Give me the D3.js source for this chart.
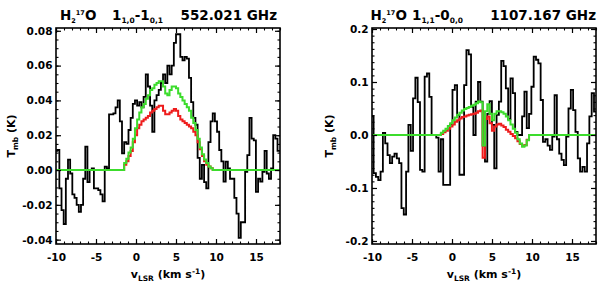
<!DOCTYPE html>
<html>
<head>
<meta charset="utf-8">
<script src="https://cdn.jsdelivr.net/npm/d3@7"></script>
<style>
body { margin: 0; background: #fff; }
svg text { font-family: "DejaVu Sans", sans-serif; font-weight: bold; fill: #000; }
</style>
</head>
<body>
<div id="chart"></div>
<script>
// H2-17O 1(1,0)-1(0,1) 552.021 GHz : channel grid start / width (km/s)
const v0_552 = -10.12, dv_552 = 0.27;
const tmb_552 = [
  0.011, 0.0115, -0.0105, -0.023, -0.031, -0.005, 0.006, -0.002, -0.014, -0.016,
  -0.02, -0.024, -0.02, -0.005, 0.0134, -0.007, 0.0, 0.001, -0.0105, -0.0105,
  -0.0115, -0.014, -0.018, 0.002, 0.001, 0.032, 0.032, 0.0325, 0.036, 0.04,
  0.028, 0.0096, 0.016, 0.015, 0.023, 0.03, 0.038, 0.04, 0.037, 0.039,
  0.036, 0.042, 0.055, 0.048, 0.037, 0.022, 0.04, 0.043, 0.046, 0.05,
  0.055, 0.05, 0.06, 0.055, 0.06, 0.073, 0.078, 0.078, 0.065, 0.063,
  0.065, 0.064, 0.053, 0.039, 0.03, 0.026, 0.007, -0.005, 0.003, -0.007,
  -0.0105, 0.016, 0.028, 0.0326, 0.028, 0.022, 0.0115, 0.005, -0.0067, 0.0048,
  0.001, -0.005, -0.005, -0.016, -0.025, -0.039, -0.03, -0.03, -0.001, 0.0086,
  0.03, 0.018, 0.017, -0.0125, -0.005, -0.0067, -0.001, 0.011, -0.002, -0.005,
  0.001, 0.02, 0.018, 0.011, 0.011
];
// model spectra, non-zero part starting at channel index below
const modelStart_552 = 30;
const red_552 = [
  0, 0, 0.003, 0.005, 0.008, 0.011, 0.016, 0.02, 0.024, 0.026,
  0.028, 0.029, 0.03, 0.031, 0.033, 0.034, 0.035, 0.036, 0.037, 0.037,
  0.034, 0.032, 0.032, 0.033, 0.034, 0.035, 0.034, 0.031, 0.029, 0.028,
  0.027, 0.026, 0.025, 0.024, 0.022, 0.02, 0.016, 0.012, 0.008, 0.005,
  0.003, 0.002, 0.001, 0
];
const green_552 = [
  0, 0, 0.004, 0.0065, 0.01, 0.013, 0.018, 0.024, 0.029, 0.033,
  0.036, 0.038, 0.041, 0.043, 0.046, 0.047, 0.049, 0.05, 0.051, 0.051,
  0.048, 0.044, 0.043, 0.046, 0.048, 0.048, 0.047, 0.044, 0.042, 0.04,
  0.038, 0.036, 0.034, 0.03, 0.027, 0.023, 0.018, 0.013, 0.009, 0.006,
  0.004, 0.002, 0.001, 0
];

// H2-17O 1(1,1)-0(0,0) 1107.167 GHz
const v0_1107 = -10.09, dv_1107 = 0.29;
const tmb_1107 = [
  0.035, -0.072, -0.079, -0.085, -0.069, 0.004, -0.016, -0.038, -0.053, -0.041,
  -0.035, -0.044, -0.053, -0.138, -0.15, -0.069, 0.019, -0.03, 0.069, 0.108,
  0.062, -0.066, -0.069, 0.11, 0.116, 0.072, 0.0, 0.0, -0.005, -0.069,
  -0.008, -0.094, -0.094, -0.094, 0.02, 0.085, 0.094, 0.038, -0.075, -0.075,
  0.094, 0.16, 0.152, 0.053, 0.0, 0.063, 0.10, 0.063, -0.02, -0.05,
  0.04, 0.064, 0.019, -0.063, 0.038, 0.063, 0.14, 0.13, 0.088, 0.03,
  0.107, 0.079, 0.006, 0.0, 0.0, 0.035, 0.082, 0.013, 0.04, 0.091,
  0.148, 0.142, 0.135, 0.066, -0.013, -0.008, -0.02, -0.028, -0.003, 0.075,
  -0.008, -0.035, -0.047, -0.057, -0.003, 0.05, 0.085, 0.047, 0.006, -0.044,
  -0.069, -0.06, -0.069, -0.016, 0.035, 0.079, 0.044
];
const modelStart_1107 = 29;
const red_1107 = [
  0, 0.002, 0.005, 0.008, 0.012, 0.016, 0.02, 0.025, 0.028, 0.031,
  0.034, 0.035, 0.037, 0.038, 0.039, 0.04, 0.042, 0.045, 0.046, -0.043,
  0.03, 0.035, 0.022, 0.008, 0.016, 0.02, 0.021, 0.018, 0.015, 0.01,
  0.006, 0.002, -0.002, -0.006, -0.012, -0.017, -0.021, -0.019, -0.009, 0
];
const green_1107 = [
  0, 0.004, 0.008, 0.012, 0.017, 0.022, 0.028, 0.033, 0.038, 0.042,
  0.046, 0.049, 0.051, 0.053, 0.055, 0.057, 0.06, 0.063, 0.062, -0.02,
  0.045, 0.058, 0.04, 0.028, 0.04, 0.045, 0.045, 0.043, 0.04, 0.035,
  0.028, 0.02, 0.012, 0.004, -0.008, -0.016, -0.022, -0.02, -0.01, 0
];

const xTicks = [-10, -5, 0, 5, 10, 15];
const yTicks_552 = [-0.04, -0.02, 0.00, 0.02, 0.04, 0.06, 0.08];
const yTicks_1107 = [-0.2, -0.1, 0.0, 0.1, 0.2];

const width = 600, height = 282;
const plotTop = 28, plotBottom = 244, boxW = 224;

const svg = d3.select("#chart").append("svg")
    .attr("width", width)
    .attr("height", height);

function pad(vals, start, n) {
    return d3.range(n).map(i => (i >= start && i < start + vals.length) ? vals[i - start] : 0);
}

function steps(vals, v0, dv) {
    const pts = vals.map((t, i) => [v0 + i * dv, t]);
    pts.push([v0 + vals.length * dv, vals[vals.length - 1]]);
    return pts;
}

function fmt(f) {
    const base = d3.format(f);
    return d => base(d).replace("\u2212", "-");
}

function drawPanel(p) {
    const x = d3.scaleLinear().domain([-10, 18]).range([p.left, p.left + boxW]);
    const y = d3.scaleLinear().domain(p.yDomain).range([plotBottom, plotTop]);
    const g = svg.append("g");

    g.append("clipPath").attr("id", "clip" + p.id)
        .append("rect")
        .attr("x", p.left).attr("y", plotTop)
        .attr("width", boxW).attr("height", plotBottom - plotTop);

    const line = d3.line()
        .x(d => x(d[0]))
        .y(d => y(d[1]))
        .curve(d3.curveStepAfter);

    const plot = g.append("g").attr("clip-path", "url(#clip" + p.id + ")");
    const n = p.tmb.length;
    plot.append("path")
        .attr("d", line(steps(p.tmb, p.v0, p.dv)))
        .attr("fill", "none").attr("stroke", "#000").attr("stroke-width", 1.8);
    plot.append("path")
        .attr("d", line(steps(pad(p.red, p.modelStart, n), p.v0, p.dv)))
        .attr("fill", "none").attr("stroke", "#ee1c1c").attr("stroke-width", 2);
    plot.append("path")
        .attr("d", line(steps(pad(p.green, p.modelStart, n), p.v0, p.dv)))
        .attr("fill", "none").attr("stroke", "#3cdc2c").attr("stroke-width", 2);

    const xMinor = d3.range(-10, 18.001, 1);
    const yMinor = d3.range(Math.ceil(p.yDomain[0] / p.yMinor), Math.floor(p.yDomain[1] / p.yMinor) + 1)
        .map(i => i * p.yMinor);

    // inward-pointing ticks on all four sides
    const sides = [
        [d3.axisBottom, x, "translate(0," + plotBottom + ")", xTicks, xMinor, true],
        [d3.axisTop, x, "translate(0," + plotTop + ")", xTicks, xMinor, false],
        [d3.axisLeft, y, "translate(" + p.left + ",0)", p.yTicks, yMinor, true],
        [d3.axisRight, y, "translate(" + (p.left + boxW) + ",0)", p.yTicks, yMinor, false]
    ];
    sides.forEach(([mk, sc, tr, major, minor, labels], i) => {
        const isX = i < 2;
        g.append("g").attr("transform", tr)
            .call(mk(sc).tickValues(minor).tickSize(-2.5).tickSizeOuter(0).tickFormat(""))
            .call(s => s.select(".domain").remove())
            .selectAll("line").attr("stroke-width", 1.1);
        const a = g.append("g").attr("transform", tr)
            .call(mk(sc).tickValues(major).tickSize(-5).tickSizeOuter(0)
                .tickPadding(isX ? 9.5 : 3.5)
                .tickFormat(labels ? (isX ? d3.format("d") : fmt(p.yFormat)) : ""))
            .call(s => s.select(".domain").remove());
        a.attr("font-family", null).attr("font-size", 10.5);
        a.selectAll("line").attr("stroke-width", 1.2);
        a.selectAll("text")
            .text(function() { return this.textContent.replace("\u2212", "-"); });
    });

    g.append("rect")
        .attr("x", p.left).attr("y", plotTop)
        .attr("width", boxW).attr("height", plotBottom - plotTop)
        .attr("fill", "none").attr("stroke", "#000").attr("stroke-width", 1.6);

    // x-axis title
    const xt = g.append("text")
        .attr("x", p.left + boxW / 2).attr("y", 278)
        .attr("text-anchor", "middle").attr("font-size", 11);
    xt.append("tspan").text("v");
    xt.append("tspan").attr("font-size", 7.5).attr("dy", 2.5).text("LSR");
    xt.append("tspan").attr("dy", -2.5).text(" (km s");
    xt.append("tspan").attr("font-size", 7.5).attr("dy", -4.5).text("-1");
    xt.append("tspan").attr("dy", 4.5).text(")");

    // y-axis title
    const yt = g.append("text")
        .attr("transform", "translate(" + p.yTitleX + "," + ((plotTop + plotBottom) / 2) + ") rotate(-90)")
        .attr("text-anchor", "middle").attr("font-size", 11);
    yt.append("tspan").text("T");
    yt.append("tspan").attr("font-size", 7.5).attr("dy", 2.5).text("mb");
    yt.append("tspan").attr("dy", -2.5).text(" (K)");

    // panel title: species, transition, frequency
    const t1 = g.append("text").attr("x", p.titleX[0]).attr("y", 20).attr("font-size", 13.5);
    t1.append("tspan").text("H");
    t1.append("tspan").attr("font-size", 6.5).attr("dy", 3).text("2");
    t1.append("tspan").attr("font-size", 6.5).attr("dy", -8.5).text("17");
    t1.append("tspan").attr("dy", 5.5).text("O");

    const t2 = g.append("text").attr("x", p.titleX[1]).attr("y", 20).attr("font-size", 13.5);
    t2.append("tspan").text(p.lev[0]);
    t2.append("tspan").attr("font-size", 7.5).attr("dy", 3).text(p.lev[1]);
    t2.append("tspan").attr("dy", -3).text("-" + p.lev[2]);
    t2.append("tspan").attr("font-size", 7.5).attr("dy", 3).text(p.lev[3]);

    g.append("text")
        .attr("x", p.titleX[2]).attr("y", 20)
        .attr("text-anchor", "end").attr("font-size", 13.5)
        .text(p.freq);
}

drawPanel({
    id: "a", left: 56, v0: v0_552, dv: dv_552,
    tmb: tmb_552, red: red_552, green: green_552, modelStart: modelStart_552,
    yDomain: [-0.0425, 0.0816], yTicks: yTicks_552, yMinor: 0.005, yFormat: ".2f",
    yTitleX: 15, titleX: [60, 112, 277],
    lev: ["1", "1,0", "1", "0,1"], freq: "552.021 GHz"
});

drawPanel({
    id: "b", left: 372, v0: v0_1107, dv: dv_1107,
    tmb: tmb_1107, red: red_1107, green: green_1107, modelStart: modelStart_1107,
    yDomain: [-0.2057, 0.2019], yTicks: yTicks_1107, yMinor: 0.0125, yFormat: ".1f",
    yTitleX: 333, titleX: [370.5, 412, 596],
    lev: ["1", "1,1", "0", "0,0"], freq: "1107.167 GHz"
});
</script>
</body>
</html>
